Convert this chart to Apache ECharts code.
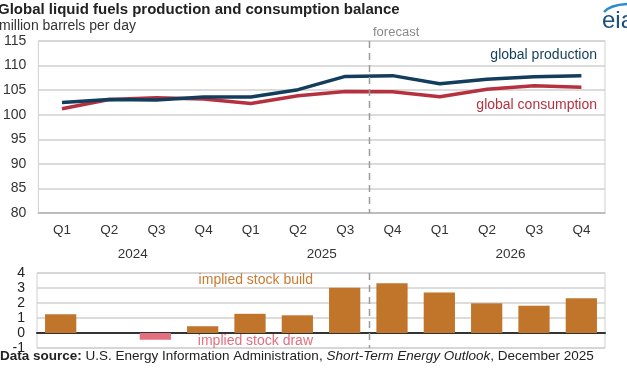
<!DOCTYPE html>
<html>
<head>
<meta charset="utf-8">
<script src="https://cdn.jsdelivr.net/npm/echarts@6/dist/echarts.min.js"></script>
<style>
  html, body { margin: 0; padding: 0; background: #fff; }
  #chart { width: 627px; height: 376px; }
</style>
</head>
<body>
<div id="chart"></div>
<script>
const quarters = ['Q1', 'Q2', 'Q3', 'Q4', 'Q1', 'Q2', 'Q3', 'Q4', 'Q1', 'Q2', 'Q3', 'Q4'];
const years = ['2024', '2025', '2026'];
const production = [102.5, 103.1, 103.0, 103.6, 103.6, 105.1, 107.8, 107.95, 106.3, 107.2, 107.75, 107.95];
const consumption = [101.2, 103.1, 103.45, 103.2, 102.3, 103.85, 104.7, 104.65, 103.65, 105.2, 105.9, 105.6];
const stockChange = [1.25, 0, -0.45, 0.45, 1.28, 1.18, 3.02, 3.32, 2.7, 1.98, 1.82, 2.32];

const FONT = '"Liberation Sans", Arial, sans-serif';
const BUILD = '#c0752b';
const DRAW = '#e2707f';
const PROD = '#123d5c';
const CONS = '#b5313f';

const myChart = echarts.init(document.getElementById('chart'));

const option = {
  animation: false,
  textStyle: { fontFamily: FONT },
  grid: [
    { left: 37, right: 22, top: 41, height: 172, show: true, borderColor: '#cfcfcf', borderWidth: 1 },
    { left: 37, right: 22, top: 273, height: 75, show: true, borderColor: '#cfcfcf', borderWidth: 1 }
  ],
  xAxis: [
    {
      gridIndex: 0, type: 'category', data: quarters,
      axisLine: { lineStyle: { color: '#b5b5b5', width: 1.5 } },
      axisTick: { length: 24, lineStyle: { color: '#a0a0a0', width: 1.5 } },
      axisLabel: { color: '#333', fontSize: 13.5, margin: 10, fontFamily: FONT },
      splitLine: { show: false }
    },
    {
      gridIndex: 0, type: 'category', data: years, position: 'bottom', offset: 24,
      axisLine: { show: false },
      axisTick: { length: 25, lineStyle: { color: '#a0a0a0', width: 1.5 } },
      axisLabel: { color: '#333', fontSize: 13.5, margin: 10, fontFamily: FONT },
      splitLine: { show: false }
    },
    {
      gridIndex: 1, type: 'category', data: quarters,
      axisLine: { onZero: true, lineStyle: { color: '#333', width: 2 } },
      axisTick: { show: false },
      axisLabel: { show: false },
      splitLine: { show: false }
    }
  ],
  yAxis: [
    {
      gridIndex: 0, type: 'value', min: 80, max: 115, interval: 5,
      axisLine: { show: false }, axisTick: { show: false },
      axisLabel: { color: '#333', fontSize: 14, margin: 12, fontFamily: FONT },
      splitLine: { lineStyle: { color: '#d0d0d0', width: 1.5 } }
    },
    {
      gridIndex: 1, type: 'value', min: -1, max: 4, interval: 1,
      axisLine: { show: false }, axisTick: { show: false },
      axisLabel: { color: '#222', fontSize: 14, margin: 12, fontFamily: FONT },
      splitLine: { lineStyle: { color: '#d0d0d0', width: 1.5 } }
    }
  ],
  series: [
    {
      name: 'global consumption', type: 'line', xAxisIndex: 0, yAxisIndex: 0,
      data: consumption, symbol: 'none',
      lineStyle: { color: CONS, width: 3.5 }
    },
    {
      name: 'global production', type: 'line', xAxisIndex: 0, yAxisIndex: 0,
      data: production, symbol: 'none',
      lineStyle: { color: PROD, width: 3.5 }
    },
    {
      name: 'implied stock change', type: 'bar', xAxisIndex: 2, yAxisIndex: 1,
      barWidth: '66%',
      data: stockChange.map(v => ({ value: v, itemStyle: { color: v < 0 ? DRAW : BUILD } }))
    }
  ]
};

myChart.setOption(option);

// forecast divider between Q3 2025 and Q4 2025
const xa = myChart.convertToPixel({ xAxisIndex: 0 }, 6);
const xb = myChart.convertToPixel({ xAxisIndex: 0 }, 7);
const fx = Math.round((xa + xb) / 2) + 0.5;
const dash = { stroke: '#9a9a9a', lineWidth: 1.5, lineDash: [7, 5] };

myChart.setOption({
  graphic: [
    { type: 'text', left: -2, top: 2, style: { text: 'Global liquid fuels production and consumption balance', font: 'bold 15px ' + FONT, fill: '#222' } },
    { type: 'text', left: -1, top: 19, style: { text: 'million barrels per day', font: '14px ' + FONT, fill: '#333' } },
    { type: 'text', x: 373, y: 32, style: { text: 'forecast', font: '13px ' + FONT, fill: '#8a8a8a', verticalAlign: 'middle' } },
    { type: 'line', shape: { x1: fx, y1: 41, x2: fx, y2: 213 }, style: dash, z: 5 },
    { type: 'line', shape: { x1: fx, y1: 273, x2: fx, y2: 348 }, style: dash, z: 5 },
    { type: 'text', x: 597, y: 55, style: { text: 'global production', font: '14px ' + FONT, fill: PROD, align: 'right', verticalAlign: 'middle' } },
    { type: 'text', x: 597, y: 105, style: { text: 'global consumption', font: '14px ' + FONT, fill: CONS, align: 'right', verticalAlign: 'middle' } },
    { type: 'text', x: 313, y: 280, style: { text: 'implied stock build', font: '14px ' + FONT, fill: '#c97b32', align: 'right', verticalAlign: 'middle' } },
    { type: 'text', x: 313, y: 341, style: { text: 'implied stock draw', font: '14px ' + FONT, fill: DRAW, align: 'right', verticalAlign: 'middle' } },
    {
      type: 'text', left: 0, top: 349,
      style: {
        text: '{b|Data source:} U.S. Energy Information Administration, {i|Short-Term Energy Outlook}, December 2025',
        font: '13.5px ' + FONT, fill: '#222',
        rich: {
          b: { fontWeight: 'bold', fontSize: 13.5, fontFamily: FONT, fill: '#222' },
          i: { fontStyle: 'italic', fontSize: 13.5, fontFamily: FONT, fill: '#222' }
        }
      }
    },
    // eia logo
    { type: 'text', x: 602, y: 21, style: { text: 'eia', font: '24px ' + FONT, fill: '#1b4f7e', verticalAlign: 'middle' } },
    { type: 'bezierCurve', shape: { x1: 604, y1: 12, x2: 627, y2: 4, cpx1: 610, cpy1: 5 }, style: { stroke: '#2a8bd0', lineWidth: 2.5, fill: null } }
  ]
});
</script>
</body>
</html>
